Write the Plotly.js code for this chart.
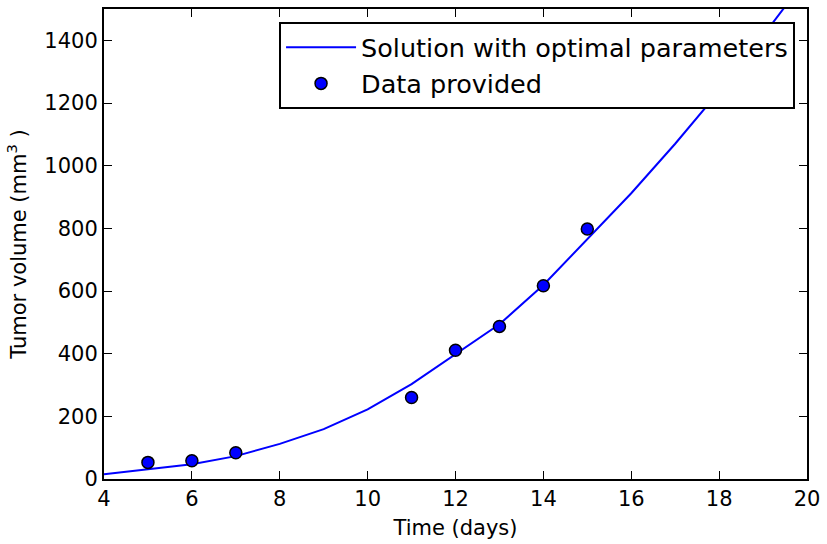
<!DOCTYPE html>
<html>
<head>
<meta charset="utf-8">
<script src="https://cdn.plot.ly/plotly-3.0.1.min.js"></script>
<style>html,body{margin:0;padding:0;background:#fff;}#chart{width:827px;height:544px;}</style>
</head>
<body>
<div id="chart"></div>
<script>
// Model solution (optimal parameters), evaluated at integer days
const modelDays = [4,5,6,7,8,9,10,11,12,13,14,15,16,17,18,19,20];
const modelVolume = [15,30,47,73,112,159,222,303,399,494,619,765,912,1070,1237,1415,1600];
// Measured data
const dataDays = [5,6,7,11,12,13,14,15];
const dataVolume = [53,58,84,260,411,487,617,798];
const xTicks = [4,6,8,10,12,14,16,18,20];
const yTicks = [0,200,400,600,800,1000,1200,1400];

const font = 'DejaVu Sans, sans-serif';
const traces = [
  {x: modelDays, y: modelVolume, type: 'scatter', mode: 'lines',
   name: 'Solution with optimal parameters', line: {color: '#0000ff', width: 2}},
  {x: dataDays, y: dataVolume, type: 'scatter', mode: 'markers',
   name: 'Data provided',
   marker: {color: '#0000ff', size: 12, line: {color: '#000000', width: 1.5}}}
];
const axisCommon = {
  showgrid: false, zeroline: false, showline: true, linecolor: '#000', linewidth: 2,
  mirror: 'allticks', ticks: 'inside', ticklen: 8, tickwidth: 1, tickcolor: '#000',
  tickfont: {family: font, size: 21, color: '#000'}
};
const layout = {
  width: 827, height: 544,
  margin: {l: 104, r: 20, t: 9, b: 65},
  paper_bgcolor: '#fff', plot_bgcolor: '#fff',
  font: {family: font, color: '#000'},
  showlegend: true,
  legend: {x: 0.983, y: 0.972, xanchor: 'right', yanchor: 'top',
    bordercolor: '#000', borderwidth: 2, bgcolor: '#fff', itemwidth: 70,
    font: {family: font, size: 25.5, color: '#000'}, tracegroupgap: 0},
  xaxis: Object.assign({}, axisCommon, {
    range: [4, 20], tickmode: 'array', tickvals: xTicks, ticktext: xTicks.map(String),
    title: {text: 'Time (days)', font: {family: font, size: 21, color: '#000'}, standoff: 10}
  }),
  yaxis: Object.assign({}, axisCommon, {
    range: [0, 1500], tickmode: 'array', tickvals: yTicks, ticktext: yTicks.map(String),
    title: {text: 'Tumor volume (mm<sup>3</sup> )', font: {family: font, size: 21, color: '#000'}, standoff: 12}
  })
};
Plotly.newPlot('chart', traces, layout, {displayModeBar: false, staticPlot: true});
</script>
</body>
</html>
